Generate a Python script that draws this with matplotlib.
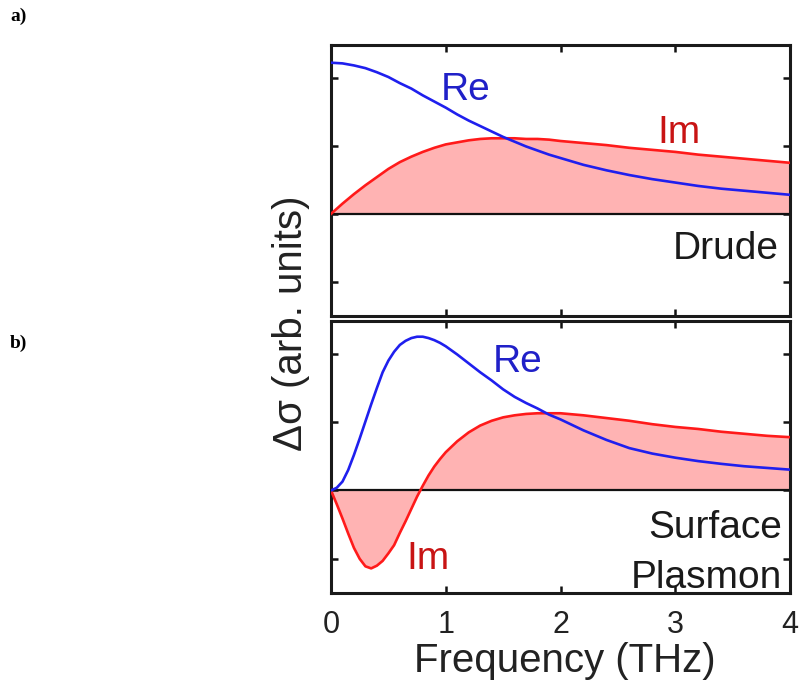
import matplotlib

matplotlib.use("Agg")
import matplotlib.pyplot as plt

plt.rcParams["font.family"] = ["Liberation Sans", "DejaVu Sans"]

# Drude panel (a), y in tick units
freq_a = [0.0, 0.1, 0.2, 0.3, 0.4, 0.5, 0.6, 0.7, 0.8, 0.9, 1.0,
          1.1, 1.2, 1.3, 1.4, 1.5, 1.6, 1.7, 1.8, 1.9, 2.0,
          2.2, 2.4, 2.6, 2.8, 3.0, 3.2, 3.4, 3.6, 3.8, 4.0]
re_a = [2.22, 2.21, 2.18, 2.14, 2.08, 2.01, 1.92, 1.84, 1.74, 1.65, 1.56,
        1.46, 1.37, 1.29, 1.21, 1.13, 1.06, 0.99, 0.93, 0.87, 0.82,
        0.72, 0.64, 0.57, 0.51, 0.46, 0.41, 0.37, 0.34, 0.31, 0.28]
im_a = [0.0, 0.15, 0.29, 0.42, 0.54, 0.66, 0.76, 0.84, 0.91, 0.97, 1.02,
        1.05, 1.08, 1.10, 1.11, 1.11, 1.11, 1.10, 1.10, 1.09, 1.07,
        1.04, 1.01, 0.97, 0.94, 0.91, 0.87, 0.84, 0.81, 0.78, 0.75]

# Surface plasmon panel (b)
freq_b = [0.0, 0.05, 0.1, 0.15, 0.2, 0.25, 0.3, 0.35, 0.4, 0.45, 0.5,
          0.55, 0.6, 0.65, 0.7, 0.75, 0.8, 0.85, 0.9, 0.95, 1.0,
          1.1, 1.2, 1.3, 1.4, 1.5, 1.6, 1.7, 1.8, 1.9, 2.0,
          2.2, 2.4, 2.6, 2.8, 3.0, 3.2, 3.4, 3.6, 3.8, 4.0]
re_b = [0.0, 0.04, 0.13, 0.30, 0.52, 0.76, 1.01, 1.26, 1.50, 1.73, 1.90,
        2.03, 2.13, 2.19, 2.23, 2.25, 2.25, 2.23, 2.20, 2.16, 2.11,
        1.99, 1.86, 1.73, 1.61, 1.48, 1.37, 1.28, 1.20, 1.11, 1.04,
        0.88, 0.74, 0.62, 0.54, 0.48, 0.43, 0.39, 0.355, 0.33, 0.305]
im_b = [0.0, -0.20, -0.41, -0.63, -0.84, -1.00, -1.11, -1.14, -1.10, -1.03, -0.92,
        -0.80, -0.62, -0.45, -0.27, -0.09, 0.07, 0.22, 0.35, 0.46, 0.56,
        0.72, 0.85, 0.95, 1.02, 1.07, 1.10, 1.12, 1.13, 1.13, 1.13,
        1.10, 1.06, 1.02, 0.97, 0.93, 0.90, 0.86, 0.83, 0.80, 0.78]

x_ticks = [0, 1, 2, 3, 4]
y_ticks = [-1, 0, 1, 2]

BLUE = "#1f1fee"
RED = "#ff1a1a"
FILL = "#ffb3b3"
RE_TXT = "#2020c8"
IM_TXT = "#c81414"

W, H = 801, 688
fig = plt.figure(figsize=(W / 100, H / 100), dpi=100)


def px_axes(left, top, right, bottom):
    return fig.add_axes([left / W, 1 - bottom / H, (right - left) / W, (bottom - top) / H])


ax_a = px_axes(331, 45, 790, 316)
ax_b = px_axes(331, 321, 790, 593)

for ax, f, re, im in [(ax_a, freq_a, re_a, im_a), (ax_b, freq_b, re_b, im_b)]:
    ax.fill_between(f, im, 0, color=FILL, lw=0, zorder=1)
    ax.axhline(0, color="#111111", lw=1.6, zorder=2)
    ax.plot(f, im, color=RED, lw=1.9, zorder=3)
    ax.plot(f, re, color=BLUE, lw=1.9, zorder=4)
    ax.set_xlim(0, 4)
    ax.set_ylim(-1.5, 2.48)
    ax.set_xticks(x_ticks)
    ax.set_yticks(y_ticks)
    ax.set_yticklabels([])
    ax.tick_params(direction="in", top=True, right=True, length=5, width=1.8,
                   color="#111111")
    for sp in ax.spines.values():
        sp.set_linewidth(2.2)
        sp.set_color("#1a1a1a")

ax_a.set_xticklabels([])
ax_b.set_xticklabels([str(t) for t in x_ticks], fontsize=22, color="#222222")
ax_b.tick_params(axis="x", pad=12)

txt = dict(fontsize=28, va="baseline")
ax_a.text(0.96, 1.67, "Re", color=RE_TXT, ha="left", **txt)
ax_a.text(2.84, 1.04, "Im", color=IM_TXT, ha="left", **txt)
ax_a.text(3.90, -0.66, "Drude", color="#1a1a1a", ha="right", **txt)

ax_b.text(1.41, 1.74, "Re", color=RE_TXT, ha="left", **txt)
ax_b.text(0.66, -1.15, "Im", color=IM_TXT, ha="left", **txt)
ax_b.text(3.93, -0.69, "Surface", color="#1a1a1a", ha="right", **txt)
ax_b.text(3.93, -1.42, "Plasmon", color="#1a1a1a", ha="right", **txt)

fig.text(565 / W, 1 - 672 / H, "Frequency (THz)", fontsize=29, ha="center",
         va="baseline", color="#222222")
fig.text(291 / W, 1 - 323 / H, "Δσ (arb. units)", fontsize=29, rotation=90,
         ha="center", va="center", color="#222222")

panel = dict(fontsize=14, fontweight="bold", family=["Liberation Serif", "DejaVu Serif"],
             va="top", ha="left")
fig.text(10 / W, 1 - 8 / H, "a)", **panel)
fig.text(10 / W, 1 - 335 / H, "b)", **panel)

plt.savefig("out.png", dpi=100)
plt.close()
